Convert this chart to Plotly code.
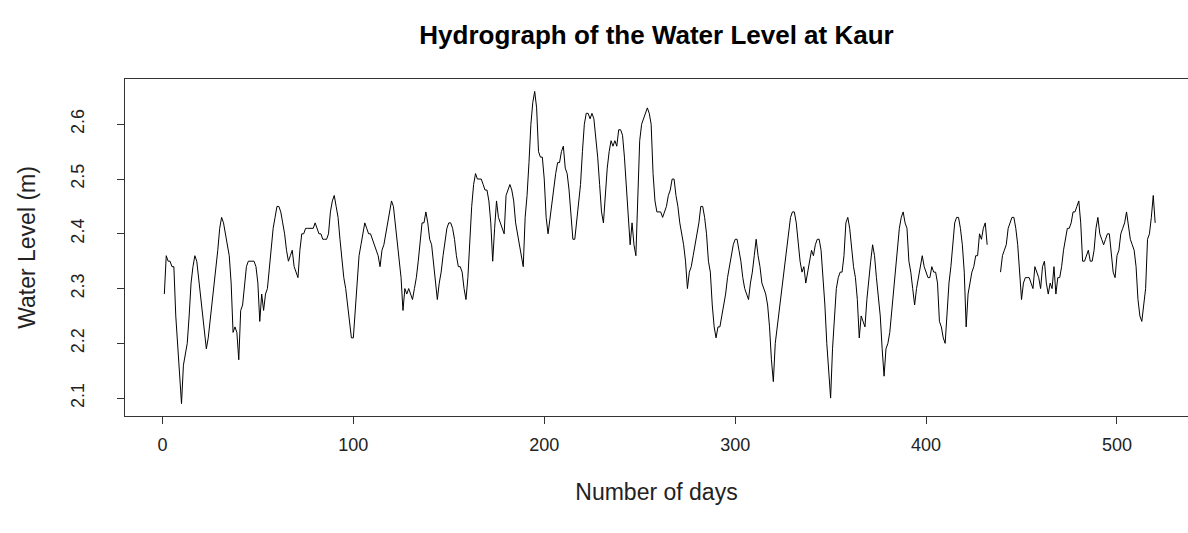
import plotly.graph_objects as go

# Daily water level readings (m) at Kaur, days 1..520 (None = missing)
level_1_100 = [
    2.29, 2.36, 2.35, 2.35, 2.34, 2.34, 2.25, 2.19, 2.15, 2.09,
    2.16, 2.18, 2.20, 2.25, 2.31, 2.34, 2.36, 2.35, 2.32, 2.29,
    2.25, 2.22, 2.19, 2.21, 2.24, 2.28, 2.31, 2.33, 2.37, 2.41,
    2.43, 2.42, 2.40, 2.38, 2.36, 2.31, 2.22, 2.23, 2.22, 2.17,
    2.26, 2.27, 2.30, 2.34, 2.35, 2.35, 2.35, 2.35, 2.34, 2.31,
    2.24, 2.29, 2.26, 2.29, 2.30, 2.34, 2.38, 2.41, 2.43, 2.45,
    2.45, 2.44, 2.42, 2.40, 2.37, 2.35, 2.36, 2.37, 2.34, 2.33,
    2.32, 2.37, 2.40, 2.40, 2.41, 2.41, 2.41, 2.41, 2.41, 2.42,
    2.41, 2.40, 2.40, 2.39, 2.39, 2.39, 2.40, 2.44, 2.46, 2.47,
    2.45, 2.43, 2.39, 2.35, 2.32, 2.30, 2.27, 2.23, 2.21, 2.21,
]
level_101_200 = [
    2.26, 2.31, 2.36, 2.38, 2.40, 2.42, 2.41, 2.40, 2.40, 2.39,
    2.38, 2.37, 2.36, 2.34, 2.37, 2.38, 2.40, 2.42, 2.44, 2.46,
    2.45, 2.42, 2.38, 2.36, 2.32, 2.26, 2.30, 2.29, 2.30, 2.29,
    2.28, 2.30, 2.32, 2.35, 2.39, 2.42, 2.42, 2.44, 2.42, 2.39,
    2.38, 2.35, 2.31, 2.28, 2.31, 2.33, 2.36, 2.39, 2.41, 2.42,
    2.42, 2.41, 2.39, 2.36, 2.34, 2.34, 2.33, 2.30, 2.28, 2.32,
    2.39, 2.45, 2.49, 2.51, 2.50, 2.50, 2.50, 2.49, 2.48, 2.48,
    2.46, 2.42, 2.35, 2.41, 2.46, 2.43, 2.42, 2.41, 2.40, 2.47,
    2.48, 2.49, 2.48, 2.46, 2.42, 2.40, 2.38, 2.36, 2.34, 2.43,
    2.47, 2.53, 2.60, 2.64, 2.66, 2.63, 2.55, 2.54, 2.54, 2.50,
]
level_201_300 = [
    2.43, 2.40, 2.43, 2.46, 2.49, 2.51, 2.53, 2.53, 2.55, 2.56,
    2.52, 2.51, 2.48, 2.44, 2.39, 2.39, 2.42, 2.45, 2.49, 2.55,
    2.60, 2.62, 2.62, 2.61, 2.62, 2.61, 2.58, 2.54, 2.49, 2.44,
    2.42, 2.47, 2.52, 2.55, 2.57, 2.56, 2.57, 2.56, 2.59, 2.59,
    2.58, 2.54, 2.49, 2.43, 2.38, 2.42, 2.38, 2.36, 2.45, 2.57,
    2.60, 2.61, 2.62, 2.63, 2.62, 2.60, 2.51, 2.46, 2.44, 2.44,
    2.44, 2.43, 2.44, 2.45, 2.47, 2.48, 2.50, 2.50, 2.47, 2.45,
    2.42, 2.40, 2.38, 2.35, 2.30, 2.33, 2.34, 2.36, 2.38, 2.40,
    2.42, 2.45, 2.45, 2.43, 2.40, 2.35, 2.33, 2.27, 2.23, 2.21,
    2.23, 2.23, 2.25, 2.27, 2.29, 2.32, 2.34, 2.36, 2.38, 2.39,
]
level_301_400 = [
    2.39, 2.37, 2.35, 2.32, 2.30, 2.29, 2.28, 2.31, 2.33, 2.36,
    2.39, 2.36, 2.34, 2.31, 2.30, 2.29, 2.27, 2.23, 2.17, 2.13,
    2.20, 2.23, 2.25, 2.29, 2.32, 2.35, 2.38, 2.41, 2.43, 2.44,
    2.44, 2.42, 2.38, 2.35, 2.33, 2.34, 2.31, 2.33, 2.35, 2.37,
    2.36, 2.38, 2.39, 2.39, 2.37, 2.32, 2.27, 2.20, 2.14, 2.10,
    2.19, 2.25, 2.30, 2.32, 2.33, 2.33, 2.36, 2.42, 2.43, 2.41,
    2.37, 2.34, 2.32, 2.28, 2.21, 2.25, 2.24, 2.23, 2.28, 2.32,
    2.35, 2.38, 2.36, 2.32, 2.29, 2.25, 2.19, 2.14, 2.19, 2.20,
    2.22, 2.26, 2.30, 2.34, 2.37, 2.41, 2.43, 2.44, 2.42, 2.41,
    2.35, 2.33, 2.30, 2.27, 2.30, 2.32, 2.34, 2.36, 2.34, 2.33,
]
level_401_520 = [
    2.32, 2.32, 2.34, 2.33, 2.33, 2.31, 2.24, 2.23, 2.21, 2.20,
    2.26, 2.31, 2.34, 2.38, 2.42, 2.43, 2.43, 2.41, 2.38, 2.33,
    2.23, 2.29, 2.31, 2.33, 2.34, 2.36, 2.36, 2.40, 2.39, 2.41,
    2.42, 2.38, None, None, None, None, None, None, 2.33, 2.36,
    2.37, 2.38, 2.41, 2.42, 2.43, 2.43, 2.41, 2.38, 2.32, 2.28,
    2.31, 2.32, 2.32, 2.32, 2.31, 2.30, 2.34, 2.33, 2.32, 2.30,
    2.34, 2.35, 2.31, 2.29, 2.31, 2.30, 2.34, 2.29, 2.32, 2.32,
    2.34, 2.37, 2.39, 2.41, 2.41, 2.42, 2.44, 2.44, 2.45, 2.46,
    2.42, 2.35, 2.35, 2.36, 2.37, 2.35, 2.35, 2.37, 2.41, 2.43,
    2.40, 2.39, 2.38, 2.39, 2.40, 2.40, 2.37, 2.33, 2.32, 2.36,
    2.37, 2.40, 2.41, 2.42, 2.44, 2.41, 2.39, 2.38, 2.37, 2.34,
    2.28, 2.25, 2.24, 2.27, 2.30, 2.39, 2.40, 2.43, 2.47, 2.42,
]

levels = level_1_100 + level_101_200 + level_201_300 + level_301_400 + level_401_520
days = list(range(1, len(levels) + 1))

x_ticks = [0, 100, 200, 300, 400, 500]
y_ticks = [2.1, 2.2, 2.3, 2.4, 2.5, 2.6]
y_tick_text = ["2.1", "2.2", "2.3", "2.4", "2.5", "2.6"]

FONT = "Liberation Sans, Arial, sans-serif"

fig = go.Figure()
fig.add_trace(go.Scatter(
    x=days, y=levels, mode="lines",
    line=dict(color="black", width=1),
    connectgaps=False, hoverinfo="x+y", showlegend=False,
))

fig.update_layout(
    width=1188, height=533,
    paper_bgcolor="white", plot_bgcolor="white",
    margin=dict(l=125, r=0, t=79, b=117),
    font=dict(family=FONT, color="#222222", size=18),
    title=dict(
        text="<b>Hydrograph of the Water Level at Kaur</b>",
        x=0.5, xref="paper", xanchor="center",
        y=1 - 35 / 533, yref="container", yanchor="middle",
        font=dict(family=FONT, size=26, color="black"),
    ),
)

fig.update_xaxes(
    range=[-19.6, 537.2],
    tickvals=x_ticks,
    ticks="outside", ticklen=7, tickcolor="#333333", tickwidth=1,
    showline=True, linecolor="#333333", linewidth=1, mirror=True,
    showgrid=False, zeroline=False,
    ticklabelstandoff=5,
    title=dict(text="Number of days", standoff=30, font=dict(size=23)),
    tickfont=dict(size=18),
)
fig.update_yaxes(
    range=[2.0673, 2.6827],
    tickvals=y_ticks, ticktext=y_tick_text, tickangle=-90,
    ticks="outside", ticklen=7, tickcolor="#333333", tickwidth=1,
    showline=True, linecolor="#333333", linewidth=1, mirror=True,
    showgrid=False, zeroline=False,
    ticklabelstandoff=26,
    title=dict(text="Water Level (m)", standoff=25, font=dict(size=23)),
    tickfont=dict(size=18),
)

fig.write_html(
    "out.html",
    config={"displayModeBar": False},
    post_script="document.body.style.margin='0px';document.body.style.overflow='hidden';",
)
